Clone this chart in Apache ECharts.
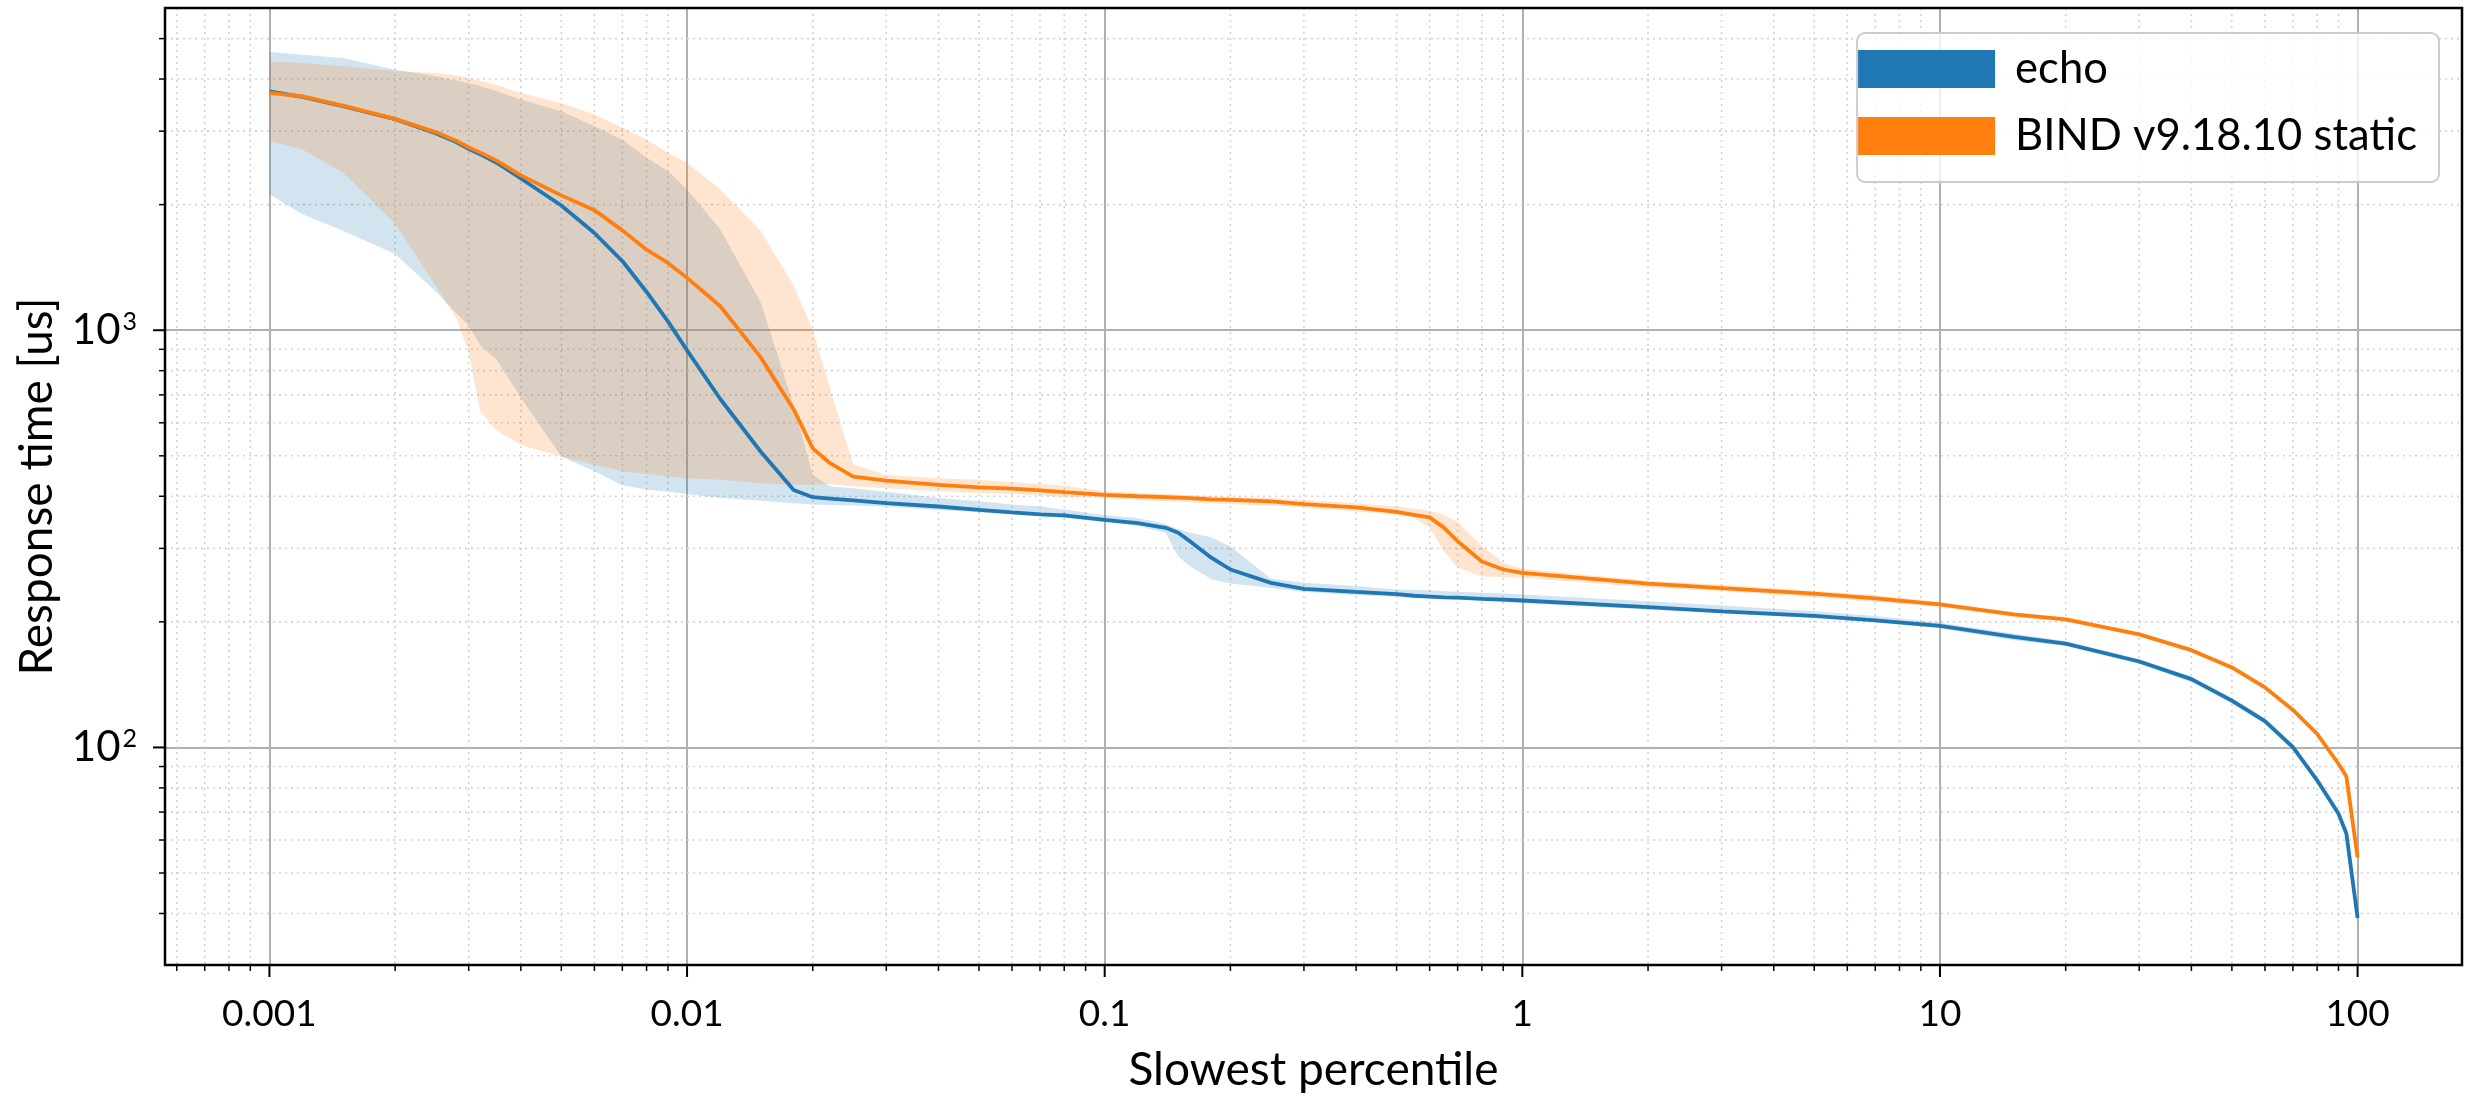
<!DOCTYPE html>
<html>
<head>
<meta charset="utf-8">
<script src="https://cdn.jsdelivr.net/npm/echarts@6/dist/echarts.min.js"></script>
<style>
  html, body { margin: 0; padding: 0; background: #fff; }
  #main { width: 2469px; height: 1098px; }
</style>
</head>
<body>
<div id="main"></div>
<script>
// slowest percentile (x) sample points, shared by every curve
var pct = [0.001, 0.0012, 0.0015, 0.002, 0.0025, 0.0028, 0.003, 0.0032, 0.0035, 0.004,
  0.005, 0.006, 0.007, 0.008, 0.009, 0.01, 0.012, 0.015, 0.018, 0.02,
  0.022, 0.025, 0.03, 0.04, 0.05, 0.06, 0.07, 0.08, 0.1, 0.12,
  0.14, 0.15, 0.16, 0.18, 0.2, 0.25, 0.3, 0.4, 0.5, 0.55,
  0.6, 0.65, 0.7, 0.8, 0.9, 1, 2, 3, 5, 7,
  10, 15, 20, 30, 40, 50, 60, 70, 80, 90,
  94, 100];

// echo: median line and min/max band [us]
var echoMid = [3738, 3624, 3442, 3205, 2965, 2825, 2720, 2640, 2520, 2310,
  1990, 1710, 1465, 1235, 1050, 895, 685, 512, 414, 398,
  395, 391, 385, 378, 371, 366, 362, 360, 351, 345,
  336, 327, 312, 285, 267, 248, 240, 236, 233, 231,
  230, 229, 228.5, 227, 226, 225, 217, 212, 206.6, 201.7,
  195.5, 184, 177.4, 160.7, 145.8, 129.5, 115.6, 100.2, 83.4, 69.4,
  62.2, 39];
var echoHi = [4642, 4574, 4491, 4212, 4060, 3970, 3914, 3850, 3738, 3571,
  3348, 3084, 2866, 2591, 2407, 2177, 1747, 1168, 661, 450,
  422, 418, 410, 396, 389, 382, 378, 372, 360, 355,
  343, 334, 327, 319, 303, 254, 248, 243.6, 239, 238.5,
  238, 237, 236, 235, 234, 232.7, 224, 219, 212, 206.6,
  199, 187.5, 180, 163, 148, 131.5, 117.5, 102, 85, 70.5,
  63.2, 39.6];
var echoLo = [2118, 1897, 1731, 1523, 1240, 1100, 1027, 920, 850, 690,
  498, 459, 425, 415, 410, 405, 396, 390, 385, 382,
  381, 380, 378, 371, 366, 362, 359, 355, 347, 340,
  327, 287, 272, 253, 247, 241, 236, 231.5, 229.7, 228.5,
  227.7, 227, 226, 225, 223, 222, 214, 210, 204, 199.5,
  193, 180.7, 175, 158.5, 143.5, 127.5, 113.8, 98.5, 82, 68.3,
  61.2, 38.4];

// BIND v9.18.10 static: median line and min/max band [us]
var bindMid = [3704, 3637, 3455, 3210, 2985, 2845, 2745, 2665, 2550, 2350,
  2105, 1940, 1735, 1560, 1450, 1335, 1143, 862, 646, 521,
  480, 446, 436, 426, 420, 417, 413, 409, 403, 400,
  398, 397, 396, 393, 392, 389, 383, 376, 367, 361,
  356, 336, 312, 279, 267, 262, 247, 241, 233.6, 227.7,
  220.3, 208.5, 202.8, 186.7, 171.1, 155.5, 139.3, 123, 107.8, 91.4,
  85.2, 54.5];
var bindHi = [4409, 4369, 4290, 4180, 4136, 4080, 4023, 3960, 3878, 3704,
  3505, 3289, 3056, 2866, 2663, 2521, 2177, 1731, 1280, 1000,
  725, 476, 450, 442, 438, 432, 428, 424, 411, 407,
  405, 404, 403, 400, 399, 396, 392, 385, 378, 374,
  369, 360, 347, 304, 277, 268, 251, 245.5, 237, 232,
  223, 211, 205, 188.5, 173, 157.5, 141, 124.5, 109, 92.5,
  86, 55];
var bindLo = [2840, 2713, 2387, 1800, 1280, 1070, 887, 638, 576, 531,
  498, 476, 460, 452, 446, 442, 438, 430, 426, 426,
  428, 422, 418, 411, 407, 405, 402, 398, 396, 392,
  389, 388, 387, 385, 383, 380, 376, 368, 361, 355,
  336, 295, 270, 257, 256, 255, 242, 237, 229, 223.5,
  217, 205.5, 200.5, 185, 169, 153.5, 137.5, 121.5, 106.5, 90.3,
  84.4, 54];

var xTicks = [0.001, 0.01, 0.1, 1, 10, 100];
var xTickLabels = ['0.001', '0.01', '0.1', '1', '10', '100'];
var yTicks = [100, 1000];
var yTickLabels = [['10', '2'], ['10', '3']];

var C_ECHO = '#1f77b4';
var C_BIND = '#ff7f0e';
var FONT = 'Lato';

var xMin = Math.pow(10, -3.25), xMax = Math.pow(10, 2.25);
var yMin = 30.1, yMax = 5920;

function pairs(xs, ys) {
  return xs.map(function (x, i) { return [x, ys[i]]; });
}

// font size that makes text come out at the given width
function fitSize(text, width) {
  var ctx = document.createElement('canvas').getContext('2d');
  ctx.font = '100px ' + FONT;
  return 100 * width / ctx.measureText(text).width;
}

function sameLog(a, b) {
  return Math.abs(Math.log10(a) - Math.log10(b)) < 1e-6;
}

function minorsBetween(lo, hi) {
  var out = [];
  for (var n = -5; n <= 4; n++) {
    for (var k = 2; k <= 9; k++) {
      var v = k * Math.pow(10, n);
      if (v > lo && v < hi) out.push(v);
    }
  }
  return out;
}

// min/max band as one polygon, every corner placed through the axes
function band(lo, hi, fill) {
  return {
    type: 'custom', silent: true, z: 2,
    data: pct.map(function (x, i) { return [x, lo[i], hi[i]]; }),
    encode: { x: 0, y: [1, 2] },
    renderItem: function (params, api) {
      if (params.dataIndex !== 0) return;
      var top = pct.map(function (x, i) { return api.coord([x, hi[i]]); });
      var bottom = pct.map(function (x, i) { return api.coord([x, lo[i]]); }).reverse();
      return {
        type: 'polygon',
        shape: { points: top.concat(bottom) },
        style: { fill: fill }
      };
    }
  };
}

// ticks (outside the frame) and dotted minor grid, placed through the axes
function xTickItem(params, api) {
  var cs = params.coordSys;
  var px = api.coord([api.value(0), api.value(1)])[0];
  var major = api.value(2) === 1;
  var bottom = cs.y + cs.height;
  var kids = [{
    type: 'line',
    shape: { x1: px, y1: bottom, x2: px, y2: bottom + (major ? 12 : 6) },
    style: { stroke: '#000', lineWidth: major ? 2 : 1.5 }
  }];
  if (!major) {
    kids.push({
      type: 'line',
      shape: { x1: px, y1: cs.y, x2: px, y2: bottom },
      style: { stroke: '#d3d3d3', lineWidth: 1.6, lineDash: [2, 4] }
    });
  }
  return { type: 'group', children: kids };
}

function yTickItem(params, api) {
  var cs = params.coordSys;
  var py = api.coord([api.value(0), api.value(1)])[1];
  var major = api.value(2) === 1;
  var kids = [{
    type: 'line',
    shape: { x1: cs.x, y1: py, x2: cs.x - (major ? 12 : 6), y2: py },
    style: { stroke: '#000', lineWidth: major ? 2 : 1.5 }
  }];
  if (!major) {
    kids.push({
      type: 'line',
      shape: { x1: cs.x, y1: py, x2: cs.x + cs.width, y2: py },
      style: { stroke: '#d3d3d3', lineWidth: 1.6, lineDash: [2, 4] }
    });
  }
  return { type: 'group', children: kids };
}

// black frame round the plot area, drawn above the grid lines
function frameItem(params) {
  var cs = params.coordSys;
  return {
    type: 'rect',
    shape: { x: cs.x, y: cs.y, width: cs.width, height: cs.height },
    style: { fill: 'none', stroke: '#000', lineWidth: 2.5 }
  };
}

var xTickData = xTicks.map(function (v) { return [v, yMin, 1]; })
  .concat(minorsBetween(xMin, xMax).map(function (v) { return [v, yMin, 0]; }));
var yTickData = yTicks.map(function (v) { return [xMin, v, 1]; })
  .concat(minorsBetween(yMin, yMax).map(function (v) { return [xMin, v, 0]; }));

var chartDom = document.getElementById('main');
var myChart = echarts.init(chartDom);
var option;

var legendSize = fitSize('BIND v9.18.10 static', 402);
var xNameSize = fitSize('Slowest percentile', 370);
var yNameSize = fitSize('Response time [us]', 378);

option = {
  animation: false,
  backgroundColor: '#fff',
  grid: { left: 165, top: 8, right: 7, bottom: 129 },
  xAxis: {
    type: 'log', logBase: 10, min: xMin, max: xMax,
    axisLine: { show: false },
    axisTick: { show: false },
    splitLine: { show: true, lineStyle: { color: '#b0b0b0', width: 2 } },
    axisLabel: {
      margin: 31, fontFamily: FONT, fontSize: 37, color: '#000',
      showMinLabel: true, showMaxLabel: true,
      formatter: function (v) {
        for (var i = 0; i < xTicks.length; i++) {
          if (sameLog(v, xTicks[i])) return xTickLabels[i];
        }
        return '';
      }
    },
    name: 'Slowest percentile', nameLocation: 'middle', nameGap: 82,
    nameTextStyle: { fontFamily: FONT, fontSize: xNameSize, color: '#000' }
  },
  yAxis: {
    type: 'log', logBase: 10, min: yMin, max: yMax,
    axisLine: { show: false },
    axisTick: { show: false },
    splitLine: { show: true, lineStyle: { color: '#b0b0b0', width: 2 } },
    axisLabel: {
      margin: 28, color: '#000',
      showMinLabel: true, showMaxLabel: true,
      formatter: function (v) {
        for (var i = 0; i < yTicks.length; i++) {
          if (sameLog(v, yTicks[i])) return '{b|' + yTickLabels[i][0] + '}{s|' + yTickLabels[i][1] + '}';
        }
        return '';
      },
      rich: {
        b: { fontFamily: FONT, fontSize: 42, color: '#000' },
        s: { fontFamily: FONT, fontSize: 25, color: '#000', verticalAlign: 'top', padding: [0, 0, 0, 2] }
      }
    },
    name: 'Response time [us]', nameLocation: 'middle', nameGap: 105,
    nameTextStyle: { fontFamily: FONT, fontSize: yNameSize, color: '#000' }
  },
  legend: {
    data: [
      { name: 'echo', itemStyle: { color: C_ECHO } },
      { name: 'BIND v9.18.10 static', itemStyle: { color: C_BIND } }
    ],
    orient: 'vertical', right: 30, top: 33,
    icon: 'rect', itemWidth: 137, itemHeight: 38, itemGap: 23,
    padding: [14, 22, 24, 1],
    backgroundColor: 'rgba(255,255,255,0.8)',
    borderColor: '#cccccc', borderWidth: 2, borderRadius: 8,
    selectedMode: false,
    textStyle: { fontFamily: FONT, fontSize: legendSize, color: '#000', padding: [0, 0, 0, 15] }
  },
  series: [
    { type: 'custom', renderItem: xTickItem, data: xTickData, clip: false, silent: true, z: 1 },
    { type: 'custom', renderItem: yTickItem, data: yTickData, clip: false, silent: true, z: 1 },
    band(echoLo, echoHi, 'rgba(31,119,180,0.2)'),
    band(bindLo, bindHi, 'rgba(255,127,14,0.2)'),
    {
      name: 'echo', type: 'line', data: pairs(pct, echoMid), symbol: 'none', z: 3,
      lineStyle: { color: C_ECHO, width: 3.8 }, itemStyle: { color: C_ECHO }
    },
    {
      name: 'BIND v9.18.10 static', type: 'line', data: pairs(pct, bindMid), symbol: 'none', z: 3,
      lineStyle: { color: C_BIND, width: 3.8 }, itemStyle: { color: C_BIND }
    },
    { type: 'custom', renderItem: frameItem, data: [[xMin, yMin]], clip: false, silent: true, z: 4 }
  ]
};

option && myChart.setOption(option);
</script>
</body>
</html>
